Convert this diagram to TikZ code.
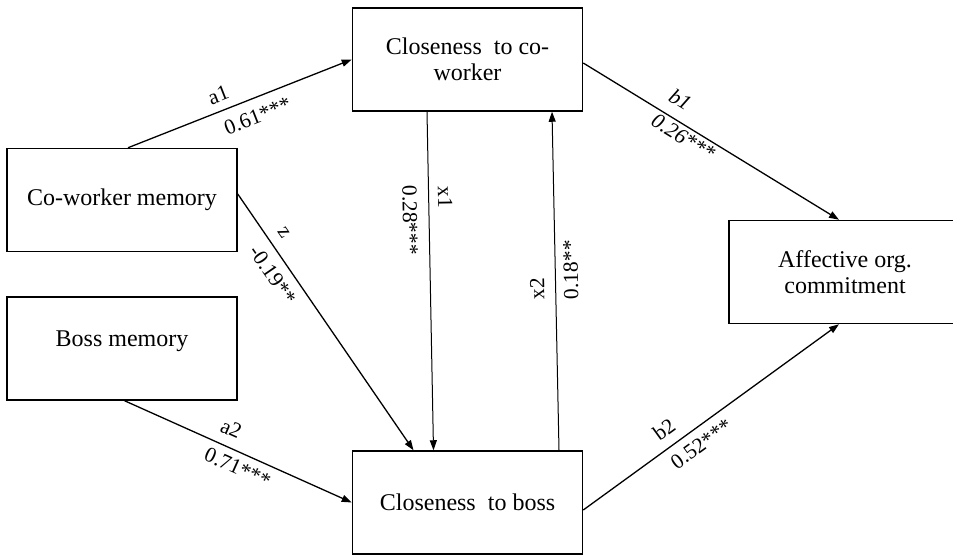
\documentclass[tikz,border=0pt]{standalone}
\usepackage{fontspec}
\setmainfont{Liberation Serif}
\usetikzlibrary{arrows.meta,calc}
\begin{document}
\begin{tikzpicture}[x=1pt,y=-1pt,
  box/.style={draw, line width=1.5pt, minimum width=230pt, minimum height=103pt, inner sep=0pt, align=center, font=\fontsize{24}{26.5}\selectfont},
  conn/.style={line width=1.3pt, -{Triangle[length=10pt,width=7pt]}},
  lbl/.style={sloped, inner sep=0pt, font=\fontsize{21.5}{23}\selectfont},
]
\useasboundingbox (0,0) rectangle (953,555);
\node[box] (cw)   at (467.5,59.5) {Closeness~~to co-\\worker};
\node[box] (cwm)  at (122,200)    {Co-worker memory};
\node[box] (bm)   at (122,348.5)  {\raisebox{19pt}{Boss memory}};
\node[box] (boss) at (467.5,502.5) {Closeness~~to boss};
\node[box, minimum width=232pt] (aff) at (845,272) {Affective org.\\commitment};

\draw[conn] ([xshift=6pt]cwm.north) -- (cw.west)
  node[lbl,pos=0.43,yshift=16pt]{a1}
  node[lbl,pos=0.55,yshift=-18pt]{0.61***};
\draw[conn] ([yshift=6pt]cwm.east) -- ([xshift=-54pt]boss.north)
  node[lbl,pos=0.186,yshift=16pt]{z}
  node[lbl,pos=0.278,yshift=-17pt]{-0.19**};
\draw[conn] ([xshift=2.6pt]bm.south) -- (boss.west)
  node[lbl,pos=0.437,yshift=18pt]{a2}
  node[lbl,pos=0.525,yshift=-15pt]{0.71***};
\draw[conn, line width=1pt] ([xshift=-40.5pt]cw.south) -- ([xshift=-34pt]boss.north)
  node[lbl,pos=0.254,yshift=16.5pt]{x1}
  node[lbl,pos=0.319,yshift=-19pt]{0.28***};
\draw[conn, line width=1pt] ([xshift=91.5pt]boss.north) -- ([xshift=84.5pt]cw.south)
  node[lbl,allow upside down,pos=0.479,yshift=18.5pt]{x2}
  node[lbl,allow upside down,pos=0.532,yshift=-15.5pt]{0.18**};
\draw[conn] ([yshift=-3.5pt]cw.east) -- ([xshift=-6pt]aff.north)
  node[lbl,pos=0.34,yshift=19.5pt]{\itshape b1}
  node[lbl,pos=0.414,yshift=-11pt]{\itshape 0.26***};
\draw[conn] ([yshift=-7.5pt]boss.east) -- ([xshift=-6pt]aff.south)
  node[lbl,pos=0.357,yshift=17.8pt]{b2}
  node[lbl,pos=0.425,yshift=-16pt]{0.52***};
\end{tikzpicture}
\end{document}
